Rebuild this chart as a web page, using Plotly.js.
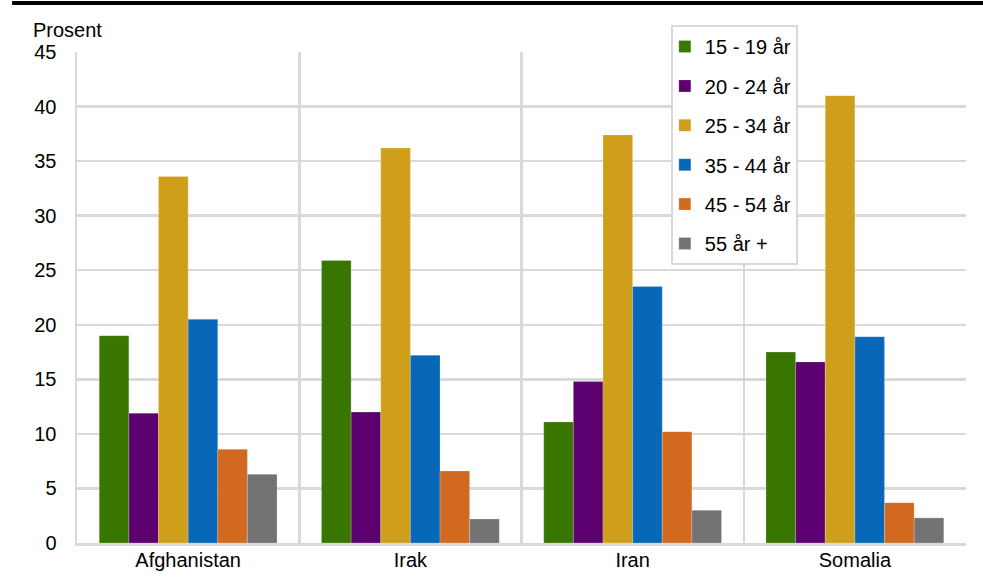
<!DOCTYPE html>
<html>
<head>
<meta charset="utf-8">
<script src="https://cdn.plot.ly/plotly-3.0.1.min.js"></script>
<style>html,body{margin:0;padding:0;background:#fff;}#chart{width:983px;height:582px;}</style>
</head>
<body>
<div id="chart"></div>
<script>
const categories = ["Afghanistan", "Irak", "Iran", "Somalia"];
const seriesNames = ["15 - 19 år", "20 - 24 år", "25 - 34 år", "35 - 44 år", "45 - 54 år", "55 år +"];
const age15_19 = [19.0, 25.9, 11.1, 17.5];
const age20_24 = [11.9, 12.0, 14.8, 16.6];
const age25_34 = [33.6, 36.2, 37.4, 41.0];
const age35_44 = [20.5, 17.2, 23.5, 18.9];
const age45_54 = [8.6, 6.6, 10.2, 3.7];
const age55plus = [6.3, 2.2, 3.0, 2.3];
const yTicks = [0, 5, 10, 15, 20, 25, 30, 35, 40, 45];
const colors = ["#397600", "#5d006f", "#cf9f1c", "#0868b7", "#d16a20", "#737373"];

const allSeries = [age15_19, age20_24, age25_34, age35_44, age45_54, age55plus];
const traces = allSeries.map((vals, i) => ({
  type: "bar",
  name: seriesNames[i],
  x: categories,
  y: vals,
  legendgroup: "g" + i,
  marker: {color: colors[i], line: {color: "rgba(255,255,255,0.35)", width: 0.6}},
  hoverinfo: "x+y+name"
}));

const font = {family: "Liberation Sans, Arial, sans-serif", size: 20, color: "#000"};

const layout = {
  width: 983, height: 582,
  margin: {l: 77, r: 17, t: 52, b: 39},
  paper_bgcolor: "#fff", plot_bgcolor: "#fff",
  font: font,
  barmode: "group",
  bargap: 0.2,
  bargroupgap: 0,
  showlegend: true,
  legend: {
    x: 0.668, y: 1.055, xanchor: "left", yanchor: "top",
    bgcolor: "#fff", bordercolor: "#d9d9d9", borderwidth: 2,
    font: font, tracegroupgap: 10.4, traceorder: "grouped",
    indentation: -8
  },
  xaxis: {
    type: "category",
    tickson: "boundaries",
    showgrid: true, gridcolor: "#d9d9d9", gridwidth: 2.5,
    showline: true, linecolor: "#d9d9d9", linewidth: 2.5,
    ticks: "", tickfont: font, zeroline: false,
    ticklabelstandoff: -3,
    fixedrange: true
  },
  yaxis: {
    range: [0, 45], tickvals: yTicks, ticktext: yTicks.map(String),
    showgrid: true, gridcolor: "#d9d9d9", gridwidth: 2.5,
    showline: true, linecolor: "#d9d9d9", linewidth: 2.5,
    ticks: "", tickfont: font, zeroline: false,
    ticklabelstandoff: 14,
    fixedrange: true
  },
  annotations: [{
    text: "Prosent", xref: "paper", yref: "paper", x: 0, y: 1,
    xanchor: "left", yanchor: "bottom", xshift: -46, yshift: 9,
    showarrow: false, font: font
  }],
  shapes: [{
    type: "line", xref: "paper", yref: "paper", x0: -0.073, x1: 1.02, y0: 1.1, y1: 1.1,
    line: {color: "#000", width: 4}
  }]
};

Plotly.newPlot("chart", traces, layout, {displayModeBar: false, staticPlot: true});
</script>
</body>
</html>
